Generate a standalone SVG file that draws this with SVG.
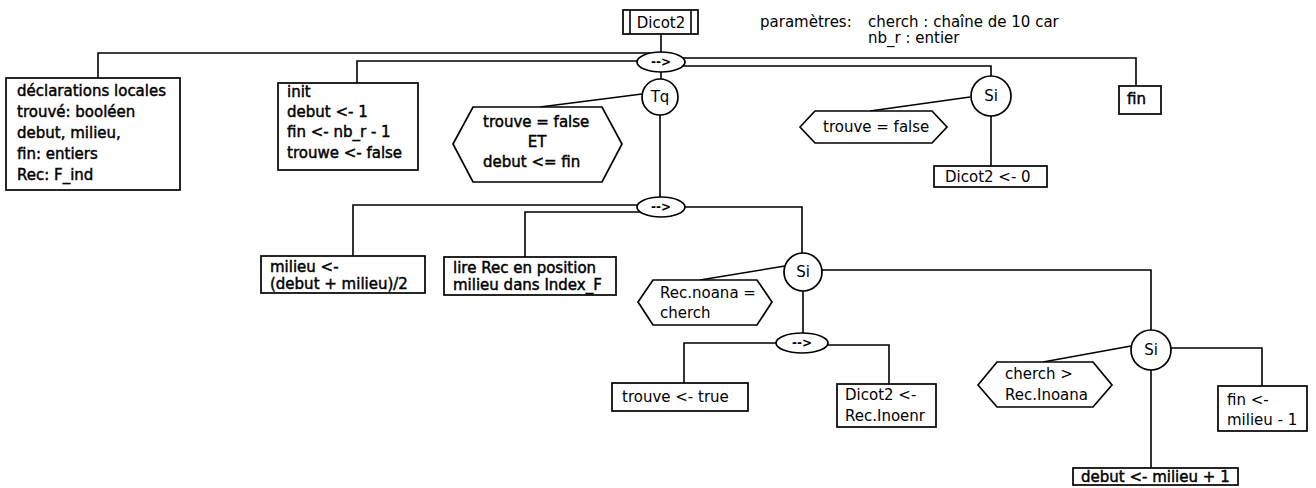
<svg xmlns="http://www.w3.org/2000/svg" width="1316" height="488" viewBox="0 0 1316 488">
  <style>
    .n { fill: #fff; stroke: #000; stroke-width: 1.7; }
    .c { fill: none; stroke: #000; stroke-width: 1.6; }
    text { font-family: "DejaVu Sans", "Liberation Sans", sans-serif; font-size: 15px; fill: #000; }
    .b { stroke: #000; stroke-width: 0.45; }
    .m { text-anchor: middle; }
    .s { font-size: 12px; font-weight: bold; }
  </style>
  <rect width="1316" height="488" fill="#fff"/>

  <!-- connectors -->
  <g id="connectors">
    <path class="c" d="M661,34 V52"/>
    <path class="c" d="M650,53 H98 V78"/>
    <path class="c" d="M637,61 H357 V83"/>
    <path class="c" d="M683,58 H1136 V86"/>
    <path class="c" d="M683,66 H991 V76"/>
    <path class="c" d="M661,72 V79"/>
    <path class="c" d="M642,94 L540,107"/>
    <path class="c" d="M660,115 V197"/>
    <path class="c" d="M970,97 L870,111"/>
    <path class="c" d="M991,116 V166"/>
    <path class="c" d="M637,205 H353 V256"/>
    <path class="c" d="M640,212 H525 V257"/>
    <path class="c" d="M685,207 H802 V253"/>
    <path class="c" d="M785,266 L700,280"/>
    <path class="c" d="M803,291 V333"/>
    <path class="c" d="M776,343 H684 V383"/>
    <path class="c" d="M828,345 H889 V384"/>
    <path class="c" d="M822,270 H1151 V330"/>
    <path class="c" d="M1131,346 L1043,362"/>
    <path class="c" d="M1171,348 H1262 V386"/>
    <path class="c" d="M1151,370 V468"/>
  </g>

  <!-- procedure header -->
  <g id="header">
    <rect class="n" x="623" y="10" width="75" height="24"/>
    <path class="c" d="M630,10 V34 M691,10 V34"/>
    <text class="m" x="661" y="28">Dicot2</text>
  </g>
  <g id="params">
    <text x="760" y="27">paramètres: <tspan x="868">cherch : chaîne de 10 car</tspan></text>
    <text x="868" y="43">nb_r : entier</text>
  </g>

  <!-- top-level sequence -->
  <g id="seq1">
    <ellipse class="n" cx="661" cy="62" rx="24" ry="10"/>
    <text class="m s" x="661" y="66">--&gt;</text>
  </g>
  <g id="decl">
    <rect class="n" x="6" y="78" width="174" height="112"/>
    <text class="b" x="17" y="96">déclarations locales</text>
    <text class="b" x="17" y="117">trouvé: booléen</text>
    <text class="b" x="17" y="138">debut, milieu,</text>
    <text class="b" x="17" y="159">fin: entiers</text>
    <text class="b" x="17" y="180">Rec: F_ind</text>
  </g>
  <g id="init">
    <rect class="n" x="278" y="83" width="140" height="87"/>
    <text class="b" x="287" y="97">init</text>
    <text class="b" x="287" y="117">debut &lt;- 1</text>
    <text class="b" x="287" y="137">fin &lt;-  nb_r - 1</text>
    <text class="b" x="287" y="158">trouwe &lt;- false</text>
  </g>
  <g id="fin">
    <rect class="n" x="1119" y="86" width="42" height="28"/>
    <text class="b" x="1127" y="104">fin</text>
  </g>

  <!-- while loop -->
  <g id="tq">
    <circle class="n" cx="660" cy="97" r="18"/>
    <text class="m" x="660" y="102">Tq</text>
  </g>
  <g id="tq-cond">
    <polygon class="n" points="453,144 473,107 602,107 622,144 602,182 473,182"/>
    <text class="b" x="483" y="127">trouve = false</text>
    <text class="b m" x="537" y="147">ET</text>
    <text class="b" x="483" y="167">debut &lt;= fin</text>
  </g>

  <!-- final test -->
  <g id="si1">
    <circle class="n" cx="991" cy="96" r="20"/>
    <text class="m" x="991" y="101">Si</text>
  </g>
  <g id="si1-cond">
    <polygon class="n" points="800,127 815,111 932,111 947,127 932,143 815,143"/>
    <text x="823" y="132">trouve = false</text>
  </g>
  <g id="res0">
    <rect class="n" x="934" y="166" width="113" height="21"/>
    <text x="945" y="182">Dicot2 &lt;- 0</text>
  </g>

  <!-- loop body -->
  <g id="seq2">
    <ellipse class="n" cx="661" cy="207" rx="24" ry="10"/>
    <text class="m s" x="661" y="211">--&gt;</text>
  </g>
  <g id="milieu">
    <rect class="n" x="261" y="256" width="164" height="37"/>
    <text class="b" x="270" y="272">milieu &lt;-</text>
    <text class="b" x="270" y="289">(debut + milieu)/2</text>
  </g>
  <g id="lire">
    <rect class="n" x="444" y="257" width="172" height="38"/>
    <text class="b" x="453" y="273">lire Rec en position</text>
    <text class="b" x="453" y="290">milieu dans Index_F</text>
  </g>
  <g id="si2">
    <circle class="n" cx="803" cy="272" r="19"/>
    <text class="m" x="803" y="277">Si</text>
  </g>
  <g id="si2-cond">
    <polygon class="n" points="638,302 653,280 757,280 772,302 757,325 653,325"/>
    <text x="660" y="298">Rec.noana =</text>
    <text x="660" y="318">cherch</text>
  </g>

  <!-- found branch -->
  <g id="seq3">
    <ellipse class="n" cx="802" cy="343" rx="26" ry="10"/>
    <text class="m s" x="802" y="347">--&gt;</text>
  </g>
  <g id="found">
    <rect class="n" x="612" y="383" width="136" height="28"/>
    <text x="622" y="402">trouve &lt;- true</text>
  </g>
  <g id="res-rec">
    <rect class="n" x="837" y="384" width="99" height="43"/>
    <text x="845" y="400">Dicot2 &lt;-</text>
    <text x="845" y="421">Rec.Inoenr</text>
  </g>

  <!-- bisection step -->
  <g id="si3">
    <circle class="n" cx="1151" cy="350" r="20"/>
    <text class="m" x="1151" y="355">Si</text>
  </g>
  <g id="si3-cond">
    <polygon class="n" points="978,385 997,362 1093,362 1112,385 1093,407 997,407"/>
    <text x="1005" y="379">cherch &gt;</text>
    <text x="1005" y="400">Rec.Inoana</text>
  </g>
  <g id="fin-upd">
    <rect class="n" x="1218" y="386" width="89" height="45"/>
    <text x="1227" y="405">fin &lt;-</text>
    <text x="1227" y="425">milieu - 1</text>
  </g>
  <g id="debut-upd">
    <rect class="n" x="1073" y="468" width="165" height="17"/>
    <text class="b" x="1081" y="482">debut &lt;- milieu + 1</text>
  </g>
</svg>
